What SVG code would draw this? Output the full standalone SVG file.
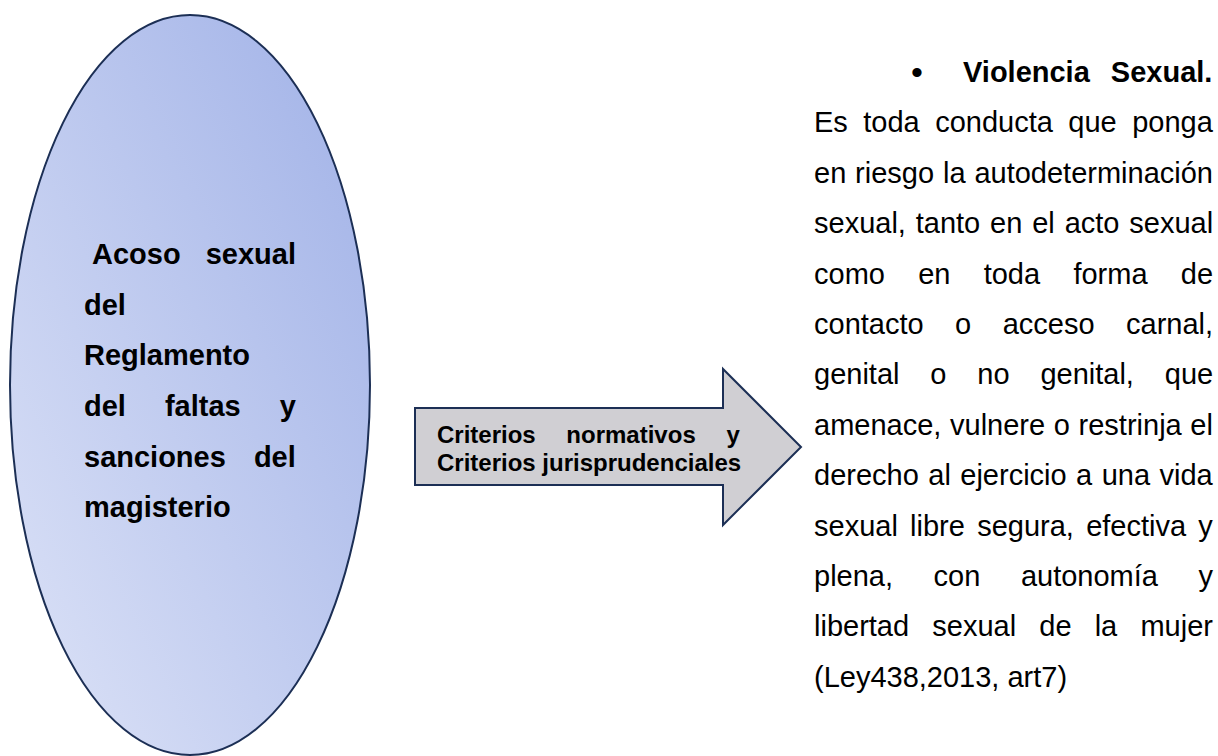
<svg xmlns="http://www.w3.org/2000/svg" width="1218" height="756" viewBox="0 0 1218 756">
<style>
.t{font-family:"Liberation Sans",Arial,sans-serif;fill:#000}
.b{font-weight:bold}
.el{font-size:29px;font-weight:bold}
.ar{font-size:24px;font-weight:bold}
.rt{font-size:29px}
</style>
<defs>
<linearGradient id="g1" x1="0" y1="1" x2="1" y2="0">
<stop offset="0" stop-color="#dde3f7"/>
<stop offset="1" stop-color="#a0b1e7"/>
</linearGradient>
</defs>
<rect width="1218" height="756" fill="#fff"/>
<g id="node-acoso">
<ellipse cx="190" cy="385" rx="180" ry="370" fill="url(#g1)" stroke="#1c2f55" stroke-width="2"/>
<text class="t el" x="92" y="264" word-spacing="17">Acoso sexual</text>
<text class="t el" x="84" y="315">del</text>
<text class="t el" x="84" y="365">Reglamento</text>
<text class="t el" x="84" y="416" word-spacing="31">del faltas y</text>
<text class="t el" x="84" y="467" word-spacing="20">sanciones del</text>
<text class="t el" x="84" y="517">magisterio</text>
</g>
<g id="connectors">
<g id="arrow-criterios">
<polygon points="415,408 723,408 723,369 801,447 723,525 723,485 415,485" fill="#d0cfd3" stroke="#1c2f55" stroke-width="2" stroke-linejoin="miter"/>
<text class="t ar" x="437" y="443" word-spacing="24">Criterios normativos y</text>
<text class="t ar" x="437" y="471">Criterios jurisprudenciales</text>
</g>
</g>
<g id="node-violencia">
<text class="t" x="917" y="84" font-size="34" text-anchor="middle">•</text>
<text class="t rt b" x="963" y="82" word-spacing="13">Violencia Sexual.</text>
<text class="t rt" x="814" y="132.4" word-spacing="7.4">Es toda conducta que ponga</text>
<text class="t rt" x="814" y="182.8" word-spacing="0.8">en riesgo la autodeterminación</text>
<text class="t rt" x="814" y="233.2" word-spacing="1.8">sexual, tanto en el acto sexual</text>
<text class="t rt" x="814" y="283.6" word-spacing="25.2">como en toda forma de</text>
<text class="t rt" x="814" y="334" word-spacing="23.4">contacto o acceso carnal,</text>
<text class="t rt" x="814" y="384.4" word-spacing="22.8">genital o no genital, que</text>
<text class="t rt" x="814" y="434.8" word-spacing="0.6">amenace, vulnere o restrinja el</text>
<text class="t rt" x="814" y="485.2" word-spacing="1.4">derecho al ejercicio a una vida</text>
<text class="t rt" x="814" y="535.6" word-spacing="4.2">sexual libre segura, efectiva y</text>
<text class="t rt" x="814" y="586" word-spacing="32.5">plena, con autonomía y</text>
<text class="t rt" x="814" y="636.4" word-spacing="15.1">libertad sexual de la mujer</text>
<text class="t rt" x="814" y="686.8">(Ley438,2013, art7)</text>
</g>
</svg>
